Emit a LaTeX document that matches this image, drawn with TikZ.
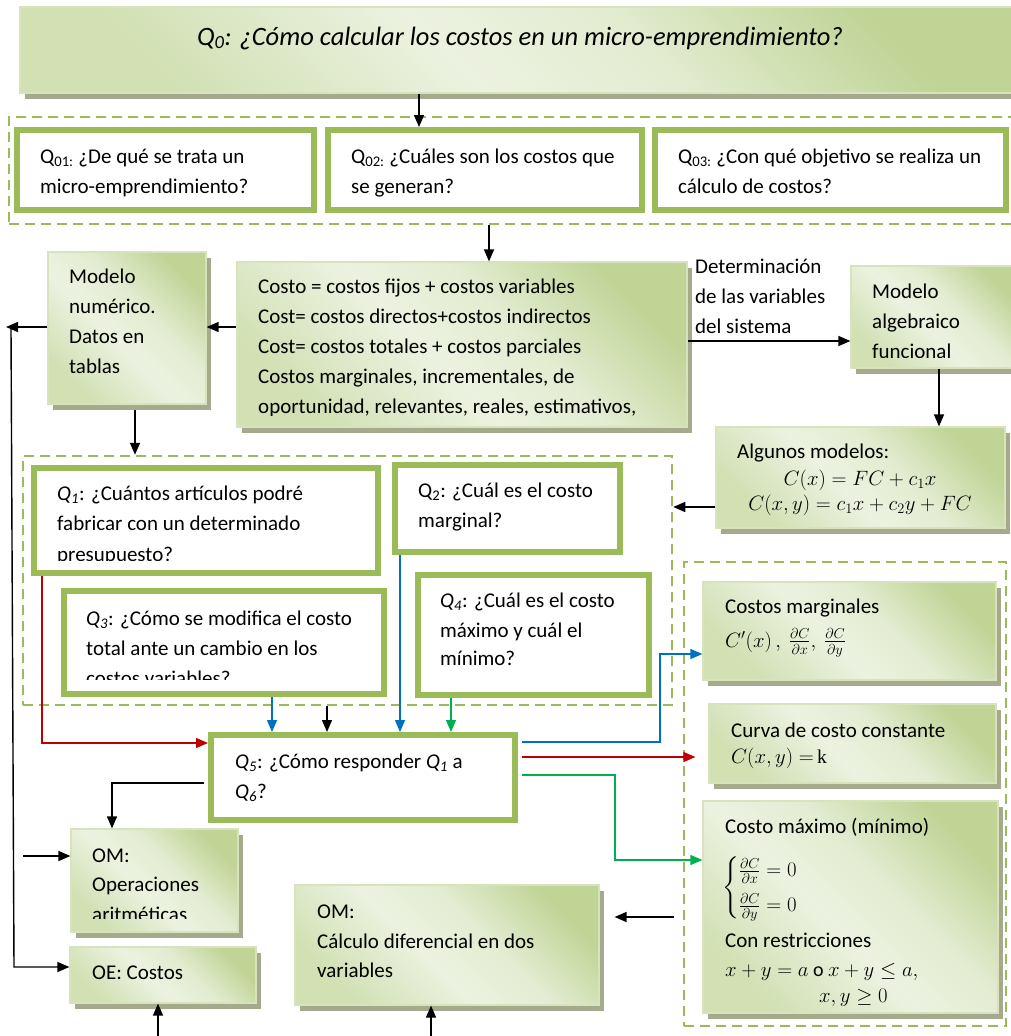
\documentclass[tikz,border=0pt]{standalone}
\usepackage{fontspec}
\setmainfont{Carlito}
\newfontfamily\kserif{Liberation Serif}
\usepackage{amsmath}
\usetikzlibrary{arrows.meta,shadows,fit}
\definecolor{gD}{RGB}{192,212,150}
\definecolor{gL}{RGB}{236,242,224}
\definecolor{gB}{RGB}{155,187,89}
\definecolor{shc}{RGB}{166,170,140}
\definecolor{bl}{RGB}{0,112,192}
\definecolor{rd}{RGB}{192,0,0}
\definecolor{gr}{RGB}{0,176,80}
\definecolor{edgec}{RGB}{214,227,188}
\pgfdeclareverticalshading{gsh}{100bp}{color(0bp)=(gD!60!gL); color(25bp)=(gD!60!gL); color(45bp)=(gL); color(58bp)=(gL!80!gD); color(75bp)=(gD); color(100bp)=(gD)}
\newcommand\mytxt[4]{\node[txt] (#1) at (#2,#3) {#4};}
\begin{document}
\begin{tikzpicture}[x=1pt,y=-1pt,
  gbox/.style={draw=edgec, line width=1.2pt, shading=gsh, shading angle=-45,
    drop shadow={shadow xshift=5pt, shadow yshift=-6pt, fill=shc, opacity=1}, inner sep=0pt},
  qbox/.style={draw=gB, line width=6pt, fill=white, inner sep=0pt},
  grp/.style={draw=gB, line width=2.5pt, dash pattern=on 10pt off 6pt, inner sep=0pt},
  arr/.style={-{Triangle[width=10pt,length=12pt]}, line width=1.4pt},
  carr/.style={-{Triangle[width=10pt,length=12pt]}, line width=1.2pt},
  txt/.style={inner sep=0pt, anchor=base west, font=\fontsize{21}{25}\selectfont},
  mth/.style={inner sep=0pt, anchor=base west, font=\fontsize{19.5}{23}\selectfont},
  ttl/.style={inner sep=0pt, anchor=base, font=\fontsize{26.5}{30}\selectfont\itshape}
]
\clip (0,0) rectangle (1011,1036);
\useasboundingbox (0,0) rectangle (1011,1036);

% dashed groups
\node[grp, fit={(9,117) (1020,224)}] (g1) {};
\node[grp, fit={(23,456) (672,705)}] (g2) {};
\node[grp, fit={(684,562) (1006,1026)}] (g3) {};

% gradient boxes
\node[gbox, fit={(20,7) (1020,93)}] (q0) {};
\node[gbox, fit={(48,252) (206,404)}] (num) {};
\node[gbox, fit={(237,262) (687,427)}] (costo) {};
\node[gbox, fit={(851,266) (1020,368)}] (alg) {};
\node[gbox, fit={(716,427) (1005,528)}] (algm) {};
\node[gbox, fit={(703,582) (996,680)}] (cm) {};
\node[gbox, fit={(709,704) (996,783)}] (cur) {};
\node[gbox, fit={(703,801) (998,1013)}] (cmax) {};
\node[gbox, fit={(71,829) (238,932)}] (omop) {};
\node[gbox, fit={(70,947) (256,1003)}] (oe) {};
\node[gbox, fit={(295,885) (599,1005)}] (calc) {};

% thick question boxes
\node[qbox, fit={(17,130) (314,210)}] (q01) {};
\node[qbox, fit={(328,130) (642,210)}] (q02) {};
\node[qbox, fit={(655,130) (1006,210)}] (q03) {};
\node[qbox, fit={(34,468) (378,573)}] (q1) {};
\node[qbox, fit={(395,465) (620,552)}] (q2) {};
\node[qbox, fit={(64,591) (384,694)}] (q3) {};
\node[qbox, fit={(418,575) (649,695)}] (q4) {};
\node[qbox, fit={(211,735) (515,820)}] (q5) {};

% texts
\node[ttl] (tq0) at (520,45) {Q\textsubscript{0}: ¿Cómo calcular los costos en un micro-emprendimiento?};
\mytxt{t01a}{40}{163}{Q\textsubscript{01:} ¿De qué se trata un}
\mytxt{t01b}{40}{193}{micro-emprendimiento?}
\mytxt{t02a}{351}{163}{Q\textsubscript{02:} ¿Cuáles son los costos que}
\mytxt{t02b}{351}{193}{se generan?}
\mytxt{t03a}{678}{163}{Q\textsubscript{03:} ¿Con qué objetivo se realiza un}
\mytxt{t03b}{678}{193}{cálculo de costos?}
\mytxt{tna}{69}{283}{Modelo}
\mytxt{tnb}{69}{313}{numérico.}
\mytxt{tnc}{69}{343}{Datos en}
\mytxt{tnd}{69}{373}{tablas}
\begin{scope}
\clip (237,262) rectangle (687,415);
\mytxt{tca}{258}{293}{Costo = costos fijos + costos variables}
\mytxt{tcb}{258}{323}{Cost= costos directos+costos indirectos}
\mytxt{tcc}{258}{353}{Cost= costos totales + costos parciales}
\mytxt{tcd}{258}{383}{Costos marginales, incrementales, de}
\mytxt{tce}{258}{413}{oportunidad, relevantes, reales, estimativos,}
\end{scope}
\mytxt{tda}{695}{273}{Determinación}
\mytxt{tdb}{695}{303}{de las variables}
\mytxt{tdc}{695}{333}{del sistema}
\begin{scope}
\clip (851,266) rectangle (1011,357);
\mytxt{taa}{872}{298}{Modelo}
\mytxt{tab}{872}{328}{algebraico}
\mytxt{tac}{872}{358}{funcional}
\end{scope}
\mytxt{tma}{737}{458}{Algunos modelos:}
\node[mth, anchor=base] (tmb) at (860,485) {\(C(x)=FC+c_1x\)};
\node[mth, anchor=base] (tmc) at (860,510) {\(C(x,y)=c_1x+c_2y+FC\)};
\begin{scope}
\clip (34,468) rectangle (378,560);
\mytxt{t1a}{57}{500}{\textit{Q\textsubscript{1}}: ¿Cuántos artículos podré}
\mytxt{t1b}{57}{530}{fabricar con un determinado}
\mytxt{t1c}{57}{561}{presupuesto?}
\end{scope}
\mytxt{t2a}{418}{497}{Q\textsubscript{2}: ¿Cuál es el costo}
\mytxt{t2b}{418}{527}{marginal?}
\begin{scope}
\clip (64,591) rectangle (384,679);
\mytxt{t3a}{86}{625}{\textit{Q\textsubscript{3}}: ¿Cómo se modifica el costo}
\mytxt{t3b}{86}{655}{total ante un cambio en los}
\mytxt{t3c}{86}{685}{costos variables?}
\end{scope}
\mytxt{t4a}{440}{607}{\textit{Q\textsubscript{4}}: ¿Cuál es el costo}
\mytxt{t4b}{440}{637}{máximo y cuál el}
\mytxt{t4c}{440}{665}{mínimo?}
\mytxt{t5a}{235}{768}{\textit{Q\textsubscript{5}}: ¿Cómo responder \textit{Q\textsubscript{1}} a}
\mytxt{t5b}{235}{798}{\textit{Q\textsubscript{6}}?}
\mytxt{tcma}{725}{613}{Costos marginales}
\node[mth] (tcmb) at (725,647) {\(C'(x)\,,\ \tfrac{\partial C}{\partial x},\ \tfrac{\partial C}{\partial y}\)};
\mytxt{tcua}{731}{737}{Curva de costo constante}
\node[mth] (tcub) at (731,763) {\(C(x,y)=\)\,{\kserif k}};
\begin{scope}
\clip (703,801) rectangle (998,1005);
\mytxt{txa}{725}{833}{Costo máximo (mínimo)}
\node[inner sep=0pt, anchor=west, font=\fontsize{22}{26}\selectfont] (txb) at (722,888) {\(\begin{cases}\frac{\partial C}{\partial x}=0\\[4pt]\frac{\partial C}{\partial y}=0\end{cases}\)};
\mytxt{txc}{725}{947}{Con restricciones}
\node[mth] (txd) at (725,976) {\(x+y=a\) {\fontsize{20}{24}\selectfont o} \(x+y\le a,\)};
\node[mth] (txe) at (819,1002) {\(x,y\ge 0\)};
\end{scope}
\begin{scope}
\clip (71,829) rectangle (238,918);
\mytxt{toa}{92}{862}{OM:}
\mytxt{tob}{92}{891}{Operaciones}
\mytxt{toc}{92}{921}{aritméticas}
\end{scope}
\mytxt{tea}{92}{979}{OE: Costos}
\mytxt{tka}{317}{918}{OM:}
\mytxt{tkb}{317}{948}{Cálculo diferencial en dos}
\mytxt{tkc}{317}{977}{variables}

% connectors
\draw[arr] (q0.south -| 419,0) -- (q02.north -| 419,0);
\draw[arr] (g1.south -| 489,0) -- (costo.north -| 489,0);
\draw[arr] (costo.west |- 0,327) -- (num.east |- 0,327);
\coordinate (lt) at (6,327);
\draw[arr] (num.west |- 0,327) -- (lt);
\coordinate (vt) at (11,327);
\coordinate (vb) at (14,967);
\draw[arr] (vt) -- (vb) -- (oe.west |- vb);
\coordinate (om1) at (23,856);
\draw[arr] (om1) -- (omop.west |- om1);
\draw[arr, shorten <=5pt] (num.south -| 135,0) -- (g2.north -| 135,0);
\draw[arr] (costo.east |- 0,341) -- (alg.west |- 0,341);
\draw[arr] (alg.south -| 939,0) -- (algm.north -| 939,0);
\draw[arr] (algm.west |- 0,507) -- (g2.east |- 0,507);
\draw[carr, bl] (q3.south -| 272,0) -- (q5.north -| 272,0);
\draw[arr] (g2.south -| 327,0) -- (q5.north -| 327,0);
\draw[carr, bl] (q2.south -| 400,0) -- (q5.north -| 400,0);
\draw[carr, gr] (q4.south -| 451,0) -- (q5.north -| 451,0);
\draw[carr, rd] (q1.south -| 42,0) |- (q5.west |- 0,743);
\coordinate (cb) at (660,654);
\draw[carr, bl, shorten <=4pt] (q5.east |- 0,742) -| (cb) -- (cm.west |- cb);
\draw[carr, rd, shorten <=4pt, shorten >=13pt] (q5.east |- 0,757) -- (cur.west |- 0,757);
\coordinate (cg) at (615,860);
\draw[carr, gr, shorten <=4pt] (q5.east |- 0,775) -| (cg) -- (cmax.west |- cg);
\draw[arr, shorten <=4pt] (q5.west |- 0,783) -| (omop.north -| 112,0);
\coordinate (cr) at (674,917);
\draw[arr, shorten >=15pt] (cr) -- (calc.east |- cr);
\coordinate (b1) at (158,1040);
\draw[arr] (b1) -- (oe.south -| b1);
\coordinate (b2) at (431,1040);
\draw[arr] (b2) -- (calc.south -| b2);
\end{tikzpicture}
\end{document}
